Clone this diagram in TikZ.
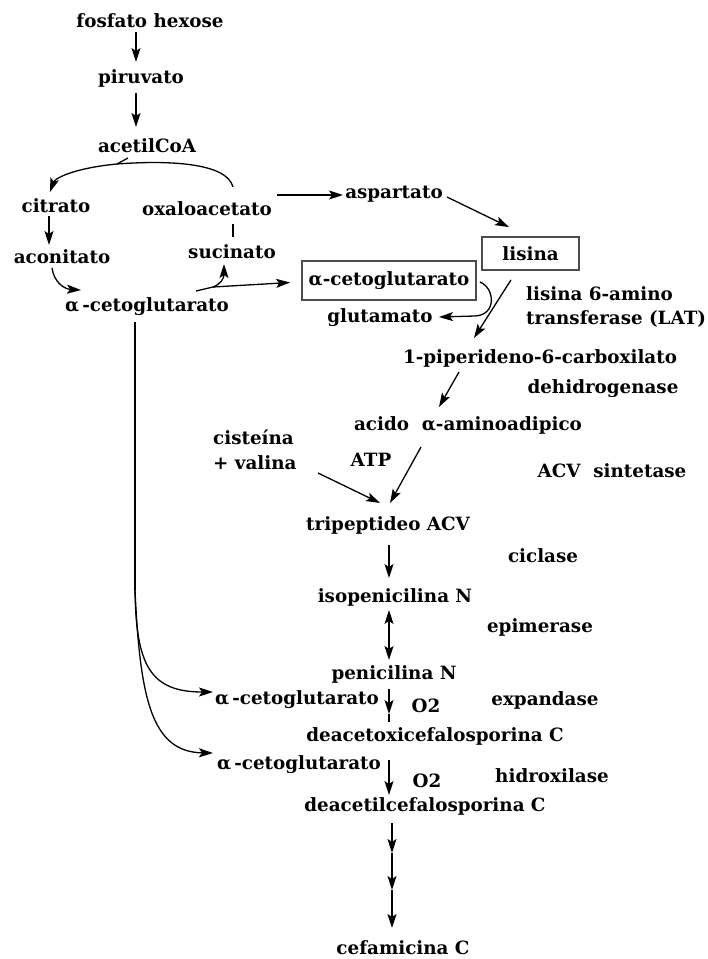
\documentclass[tikz,border=0pt]{standalone}
\usepackage{fontspec}
\setmainfont{DejaVu Serif}
\usetikzlibrary{arrows.meta,calc}
\begin{document}
\begin{tikzpicture}[x=1pt,y=-1pt,
  lbl/.style={inner sep=0pt,anchor=base,font=\fontsize{18.3}{21}\selectfont\bfseries},
  lblw/.style={inner sep=0pt,anchor=base west,font=\fontsize{18.3}{21}\selectfont\bfseries},
  boxed/.style={draw=black!70,line width=1.8pt,inner sep=0pt,font=\fontsize{18.3}{21}\selectfont\bfseries},
  ln/.style={line width=1.3pt},
  arr/.style={line width=1.3pt,-{Stealth[length=14pt,width=9pt,inset=3pt]}},
  darr/.style={line width=1.3pt,{Stealth[length=14pt,width=9pt,inset=3pt]}-{Stealth[length=14pt,width=9pt,inset=3pt]}}
]
\fill[white] (0,0) rectangle (708,959);
\useasboundingbox (0,0) rectangle (708,959);

% nodes
\node[lbl] (fh) at (150,27) {fosfato hexose};
\node[lbl] (pir) at (141,83) {piruvato};
\node[lbl] (acc) at (147,152) {acetilCoA};
\node[lbl] (cit) at (56,212) {citrato};
\node[lbl] (oxa) at (207,215) {oxaloacetato};
\node[lbl] (asp) at (394,198) {aspartato};
\node[lbl] (aco) at (62,263) {aconitato};
\node[lbl] (suc) at (232,258) {sucinato};
\node[lbl] (ak1) at (147,311) {α\,-cetoglutarato};
\node[boxed,minimum width=97pt,minimum height=33pt] (lis) at (530.5,253.5) {lisina};
\node[boxed,minimum width=174pt,minimum height=39pt] (akb) at (389,280.5) {α-cetoglutarato};
\node[lbl] (glu) at (380,322) {glutamato};
\node[lblw] (lat1) at (526,300) {lisina 6-amino};
\node[lblw] (lat2) at (526,324) {transferase (LAT)};
\node[lbl] (pip) at (540,363) {1-piperideno-6-carboxilato};
\node[lbl] (deh) at (603,393) {dehidrogenase};
\node[lbl] (aad) at (468,430) {acido\ \ α-aminoadipico};
\node[lblw] (cis) at (213,444) {cisteína};
\node[lblw] (val) at (213,469) {+ valina};
\node[lbl] (atp) at (371,466) {ATP};
\node[lbl] (acvs) at (612,477) {ACV\ \ sintetase};
\node[lbl] (tri) at (388,530) {tripeptideo ACV};
\node[lbl] (cic) at (543,562) {ciclase};
\node[lbl] (iso) at (395,602) {isopenicilina N};
\node[lbl] (epi) at (540,632) {epimerase};
\node[lbl] (pen) at (394,679) {penicilina N};
\node[lbl] (ak2) at (297,704) {α\,-cetoglutarato};
\node[lbl] (o21) at (426,712) {O2};
\node[lbl] (exp) at (545,705) {expandase};
\node[lbl] (dao) at (435,741) {deacetoxicefalosporina C};
\node[lbl] (ak3) at (299,769) {α\,-cetoglutarato};
\node[lbl] (o22) at (427,787) {O2};
\node[lbl] (hid) at (552,782) {hidroxilase};
\node[lbl] (dac) at (425,811) {deacetilcefalosporina C};
\node[lbl,text depth=0pt] (cef) at (403,954) {cefamicina C};

% junction coordinates
\coordinate (jAc) at (117,164);
\coordinate (jB) at (213,287);
\coordinate (jD) at (135,590);
\coordinate (tip1) at (389,714);
\coordinate (c1) at (392,853);
\coordinate (c2) at (392,890);

% main chain
\draw[arr] ($(fh.base)+(-14,5)$) -- ($(pir.base)+(-5,-21)$);
\draw[arr] ($(pir.base)+(-5,10)$) -- ($(acc.base)+(-11,-25)$);

% cycle
\draw[arr] ($(oxa.base)+(26,-28)$) .. controls (227,163) and (170,160) .. (jAc)
   .. controls (75,168) and (55,178) .. ($(cit.base)+(-6,-20)$);
\draw[ln] ($(acc.base)+(-19,6)$) -- (jAc);
\draw[arr] ($(cit.base)+(-7,4)$) -- ($(aco.base)+(-13,-18)$);
\draw[arr] ($(aco.base)+(-10,5)$) .. controls (54,282) and (64,289) .. ($(ak1.base)+(-66,-21)$);
\draw[ln] ($(oxa.base)+(26,9)$) -- ($(suc.base)+(1,-21)$);
\draw[ln] ($(ak1.base)+(49,-20)$) -- (jB);
\draw[arr] (jB) .. controls (221,284) and (224,278) .. ($(suc.base)+(-8,6)$);
\draw[arr] (jB) -- ($(akb.west)+(-11,2)$);

% aspartato / lisina
\draw[arr] ($(oxa.base)+(70,-20)$) -- ($(asp.base)+(-51,-3)$);
\draw[arr] ($(asp.base)+(53,-1)$) -- ($(lis.north)+(-21.5,-9)$);
\draw[arr] ($(akb.east)+(3,1.5)$) .. controls (495,288) and (497,315) .. (475,316) -- ($(glu.base)+(59,-5)$);
\draw[arr] ($(lis.south)+(-19.5,9)$) -- ($(pip.base)+(-66,-25)$);
\draw[arr] ($(pip.base)+(-81,9)$) -- ($(aad.base)+(-29,-23)$);
\draw[arr] ($(aad.base)+(-47,17)$) -- ($(tri.base)+(2,-27)$);
\draw[arr] ($(val.base west)+(105,4)$) -- ($(tri.base)+(-8,-27)$);

% penicillin chain
\draw[arr] ($(tri.base)+(1,15)$) -- ($(iso.base)+(-6,-24)$);
\draw[darr] ($(iso.base)+(-6,8)$) -- ($(pen.base)+(-5,-19)$);
\draw[arr] ($(pen.base)+(-5,10)$) -- (tip1);
\draw[ln] (tip1) -- ($(dao.base)+(-46,-19)$);
\draw[arr] ($(dao.base)+(-46,19)$) -- ($(dac.base)+(-36,-16)$);
\draw[arr] ($(dac.base)+(-33,12)$) -- (c1);
\draw[arr] (c1) -- (c2);
\draw[arr] (c2) -- ($(cef.base)+(-11,-26)$);

% alpha-ketoglutarate supply
\draw[ln] ($(ak1.base)+(-12,11)$) -- (jD);
\draw[arr] (jD) .. controls (136,665) and (150,692) .. ($(ak2.base)+(-84,-12)$);
\draw[arr] (jD) .. controls (140,700) and (152,752) .. ($(ak3.base)+(-86,-16)$);
\end{tikzpicture}
\end{document}
